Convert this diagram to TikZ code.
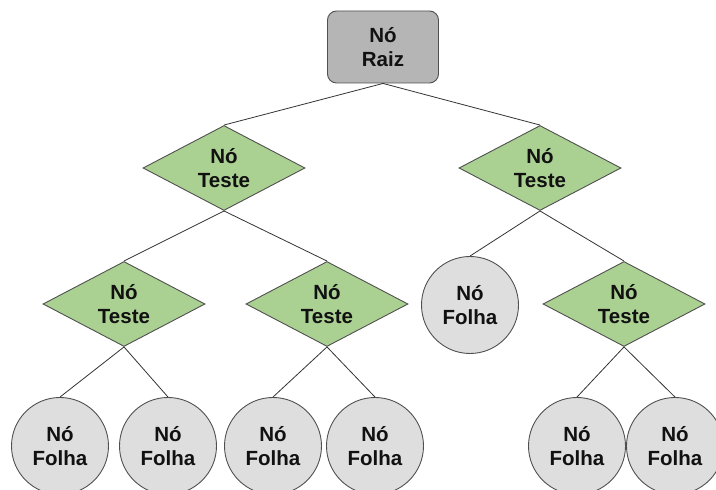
\documentclass[tikz,border=0pt]{standalone}
\usepackage{fontspec}
\setmainfont{Liberation Sans}
\usetikzlibrary{shapes.geometric}
\definecolor{rootfill}{HTML}{B5B5B5}
\definecolor{testfill}{HTML}{AAD092}
\definecolor{leaffill}{HTML}{DEDEDE}
\definecolor{edgecol}{HTML}{505050}
\definecolor{linecol}{HTML}{333333}
\definecolor{txtcol}{HTML}{111111}
\tikzset{
  rootbox/.style={draw=edgecol, fill=rootfill, rounded corners=9pt, line width=0.9pt,
    minimum width=111pt, minimum height=72pt, align=center, inner sep=0pt},
  testnode/.style={diamond, draw=edgecol, fill=testfill, line width=0.9pt,
    minimum width=162pt, minimum height=85pt, align=center, inner sep=0pt, aspect=2},
  leafnode/.style={circle, draw=edgecol, fill=leaffill, line width=0.9pt,
    minimum size=97pt, align=center, inner sep=0pt},
  conn/.style={draw=linecol, line width=0.8pt},
  txt/.style={font=\fontsize{20.5}{24}\selectfont\bfseries, text=txtcol}
}
\begin{document}
\begin{tikzpicture}[x=1pt,y=1pt]
\useasboundingbox (0,0) rectangle (716,490);
\node[rootbox, txt] (root) at (383,443) {Nó\\Raiz};
\node[testnode, txt] (l1) at (224,322) {Nó\\Teste};
\node[testnode, txt] (r1) at (540,322) {Nó\\Teste};
\node[testnode, txt] (l2a) at (124,186) {Nó\\Teste};
\node[testnode, txt] (l2b) at (327,186) {Nó\\Teste};
\node[testnode, txt] (r2) at (624,186) {Nó\\Teste};
\node[leafnode, txt] (lf0) at (470,185) {Nó\\Folha};
\node[leafnode, txt] (lf1) at (60,44) {Nó\\Folha};
\node[leafnode, txt] (lf2) at (168,44) {Nó\\Folha};
\node[leafnode, txt] (lf3) at (273,44) {Nó\\Folha};
\node[leafnode, txt] (lf4) at (375,44) {Nó\\Folha};
\node[leafnode, txt] (lf5) at (577,44) {Nó\\Folha};
\node[leafnode, txt] (lf6) at (675,44) {Nó\\Folha};
\draw[conn] (root.south) -- (l1.north);
\draw[conn] (root.south) -- (r1.north);
\draw[conn] (l1.south) -- (l2a.north);
\draw[conn] (l1.south) -- (l2b.north);
\draw[conn] (r1.south) -- (lf0.north);
\draw[conn] (r1.south) -- (r2.north);
\draw[conn] (l2a.south) -- (lf1.north);
\draw[conn] (l2a.south) -- (lf2.north);
\draw[conn] (l2b.south) -- (lf3.north);
\draw[conn] (l2b.south) -- (lf4.north);
\draw[conn] (r2.south) -- (lf5.north);
\draw[conn] (r2.south) -- (lf6.north);
\end{tikzpicture}
\end{document}
